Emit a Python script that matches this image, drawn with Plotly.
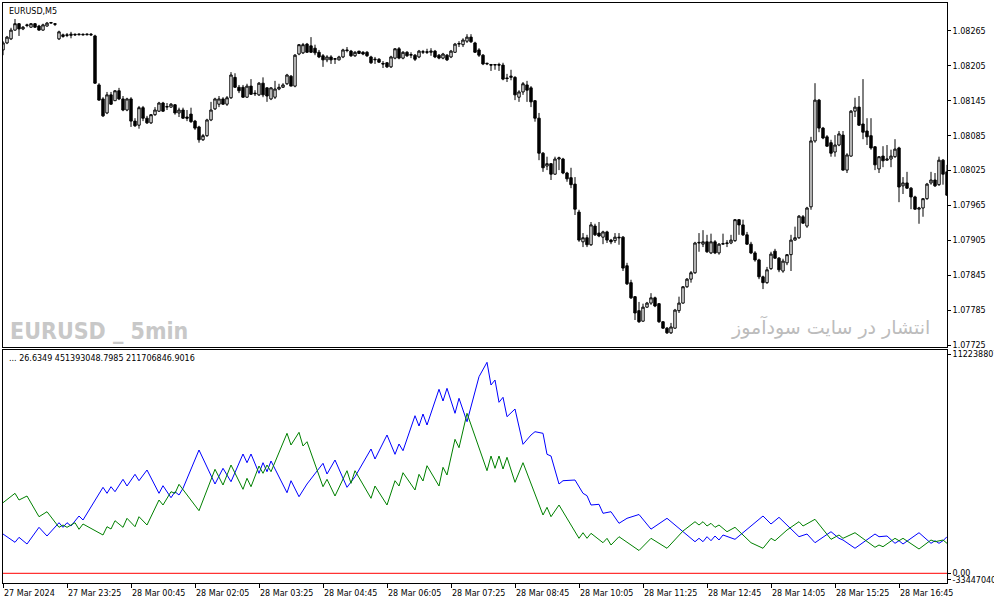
import pandas as pd
import plotly.graph_objects as go

# EURUSD M5 quotes, in points (1 point = 0.00001)
open_pts = [
    108232, 108244, 108251, 108266, 108277, 108268, 108275, 108271, 108277, 108273,
    108266, 108273, 108278, 108277, 108251, 108255, 108258, 108257, 108259, 108258,
    108259, 108258, 108259, 108256, 108172, 108148, 108124, 108155, 108145, 108162,
    108148, 108129, 108148, 108110, 108103, 108133, 108115, 108107, 108121, 108127,
    108141, 108134, 108134, 108138, 108124, 108129, 108117, 108122, 108110, 108100,
    108078, 108085, 108112, 108131, 108139, 108148, 108139, 108150, 108185, 108168,
    108168, 108151, 108170, 108158, 108155, 108175, 108167, 108148, 108151, 108165,
    108168, 108174, 108187, 108170, 108225, 108227, 108242, 108239, 108235, 108228,
    108222, 108215, 108220, 108216, 108215, 108220, 108232, 108230, 108222, 108230,
    108228, 108228, 108220, 108215, 108216, 108209, 108210, 108203, 108218, 108234,
    108218, 108228, 108223, 108223, 108220, 108228, 108229, 108228, 108230, 108223,
    108218, 108223, 108220, 108228, 108242, 108241, 108247, 108254, 108244, 108232,
    108223, 108208, 108207, 108206, 108207, 108206, 108184, 108185, 108185, 108151,
    108160, 108172, 108167, 108145, 108115, 108055, 108033, 108037, 108019, 108045,
    108045, 108021, 108013, 108002, 107954, 107903, 107910, 107898, 107930, 107918,
    107911, 107920, 107906, 107905, 107911, 107911, 107862, 107833, 107809, 107785,
    107767, 107791, 107798, 107807, 107797, 107766, 107755, 107747, 107755, 107785,
    107798, 107826, 107839, 107850, 107901, 107899, 107903, 107884, 107903, 107884,
    107899, 107900, 107901, 107905, 107941, 107932, 107915, 107899, 107884, 107872,
    107843, 107833, 107857, 107887, 107875, 107853, 107867, 107881, 107906, 107910,
    107946, 107930, 107963, 108076, 108146, 108098, 108083, 108073, 108057, 108069,
    108086, 108026, 108050, 108127, 108134, 108105, 108093, 108085, 108066, 108028,
    108050, 108043, 108045, 108049, 108064, 107999, 108004, 107995, 107980, 107959,
    107961, 107977, 108004, 108009, 108001, 108043, 108023,
]
high_pts = [
    108247, 108256, 108270, 108285, 108278, 108273, 108277, 108278, 108278, 108275,
    108277, 108280, 108280, 108278, 108265, 108260, 108261, 108263, 108260, 108260,
    108260, 108260, 108261, 108258, 108175, 108151, 108160, 108160, 108163, 108167,
    108153, 108150, 108151, 108115, 108136, 108136, 108119, 108122, 108134, 108143,
    108143, 108141, 108141, 108139, 108133, 108133, 108129, 108133, 108112, 108102,
    108088, 108114, 108143, 108150, 108153, 108151, 108153, 108194, 108192, 108172,
    108172, 108174, 108182, 108163, 108177, 108185, 108168, 108168, 108179, 108174,
    108175, 108191, 108189, 108225, 108242, 108244, 108244, 108254, 108241, 108232,
    108225, 108223, 108223, 108218, 108222, 108234, 108237, 108232, 108230, 108230,
    108230, 108230, 108222, 108220, 108218, 108213, 108211, 108222, 108235, 108237,
    108230, 108230, 108228, 108225, 108232, 108232, 108234, 108235, 108232, 108225,
    108227, 108225, 108232, 108244, 108247, 108252, 108259, 108259, 108246, 108235,
    108225, 108210, 108208, 108208, 108210, 108210, 108191, 108198, 108187, 108163,
    108177, 108179, 108170, 108146, 108124, 108057, 108049, 108038, 108049, 108049,
    108047, 108023, 108030, 108014, 107958, 107918, 107915, 107937, 107934, 107937,
    107922, 107922, 107908, 107918, 107918, 107913, 107867, 107838, 107810, 107800,
    107797, 107800, 107815, 107809, 107798, 107767, 107757, 107764, 107788, 107809,
    107827, 107841, 107853, 107903, 107918, 107923, 107915, 107917, 107906, 107901,
    107917, 107906, 107915, 107942, 107942, 107941, 107920, 107903, 107887, 107874,
    107845, 107860, 107886, 107891, 107877, 107874, 107882, 107915, 107929, 107949,
    107949, 107963, 108083, 108175, 108148, 108100, 108086, 108078, 108086, 108093,
    108093, 108055, 108129, 108150, 108153, 108182, 108115, 108115, 108067, 108050,
    108067, 108069, 108061, 108079, 108066, 108014, 108023, 107997, 107982, 107963,
    107978, 108004, 108023, 108021, 108049, 108045, 108035,
]
low_pts = [
    108223, 108242, 108249, 108265, 108256, 108266, 108271, 108270, 108270, 108265,
    108265, 108272, 108277, 108273, 108249, 108253, 108254, 108252, 108256, 108257,
    108257, 108257, 108256, 108174, 108145, 108117, 108122, 108138, 108145, 108146,
    108127, 108127, 108100, 108100, 108097, 108110, 108105, 108105, 108119, 108126,
    108126, 108129, 108133, 108121, 108117, 108114, 108110, 108107, 108095, 108073,
    108076, 108083, 108110, 108129, 108134, 108138, 108136, 108148, 108167, 108158,
    108150, 108150, 108155, 108153, 108153, 108151, 108143, 108146, 108148, 108163,
    108167, 108172, 108170, 108168, 108223, 108225, 108227, 108227, 108223, 108218,
    108203, 108211, 108208, 108208, 108214, 108218, 108228, 108220, 108220, 108225,
    108223, 108220, 108208, 108208, 108210, 108201, 108201, 108201, 108216, 108216,
    108216, 108220, 108218, 108213, 108218, 108225, 108225, 108222, 108218, 108216,
    108216, 108213, 108218, 108227, 108237, 108237, 108244, 108244, 108227, 108220,
    108206, 108206, 108196, 108198, 108196, 108180, 108177, 108180, 108146, 108143,
    108155, 108143, 108134, 108109, 108043, 108023, 108026, 108009, 108018, 108026,
    108019, 108006, 107995, 107949, 107903, 107894, 107894, 107896, 107913, 107911,
    107899, 107901, 107899, 107901, 107898, 107853, 107829, 107805, 107769, 107764,
    107766, 107790, 107795, 107791, 107764, 107754, 107745, 107745, 107754, 107781,
    107797, 107824, 107833, 107848, 107886, 107894, 107884, 107882, 107882, 107881,
    107898, 107894, 107899, 107903, 107915, 107913, 107898, 107882, 107869, 107839,
    107822, 107831, 107855, 107874, 107851, 107850, 107863, 107853, 107905, 107908,
    107934, 107927, 107958, 108073, 108091, 108079, 108066, 108049, 108049, 108067,
    108025, 108021, 108049, 108117, 108102, 108079, 108069, 108061, 108026, 108021,
    108031, 108042, 108031, 108047, 107971, 107985, 107994, 107959, 107958, 107934,
    107946, 107975, 108001, 107997, 107999, 108001, 107982,
]
close_pts = [
    108244, 108254, 108266, 108277, 108268, 108271, 108274, 108277, 108271, 108266,
    108275, 108278, 108279, 108276, 108263, 108258, 108257, 108259, 108258, 108259,
    108258, 108259, 108258, 108175, 108146, 108119, 108155, 108139, 108162, 108148,
    108129, 108148, 108110, 108102, 108133, 108115, 108107, 108121, 108129, 108141,
    108127, 108135, 108139, 108124, 108129, 108115, 108115, 108109, 108098, 108078,
    108085, 108112, 108129, 108148, 108148, 108139, 108150, 108189, 108168, 108162,
    108151, 108170, 108156, 108157, 108175, 108155, 108153, 108167, 108165, 108168,
    108172, 108189, 108170, 108223, 108241, 108241, 108228, 108228, 108227, 108220,
    108215, 108220, 108215, 108217, 108220, 108232, 108231, 108222, 108228, 108226,
    108225, 108222, 108210, 108216, 108211, 108208, 108203, 108220, 108234, 108218,
    108228, 108222, 108224, 108216, 108230, 108229, 108228, 108230, 108220, 108218,
    108225, 108215, 108230, 108242, 108243, 108249, 108254, 108246, 108228, 108223,
    108208, 108209, 108206, 108207, 108206, 108182, 108183, 108187, 108155, 108160,
    108174, 108163, 108143, 108115, 108055, 108030, 108037, 108019, 108045, 108047,
    108021, 108011, 108001, 107959, 107906, 107910, 107898, 107932, 107915, 107913,
    107920, 107906, 107903, 107911, 107910, 107858, 107831, 107807, 107781, 107766,
    107791, 107798, 107807, 107793, 107766, 107755, 107747, 107757, 107786, 107798,
    107826, 107839, 107850, 107901, 107902, 107903, 107886, 107903, 107884, 107899,
    107900, 107901, 107906, 107941, 107932, 107915, 107899, 107884, 107872, 107843,
    107833, 107855, 107882, 107875, 107855, 107870, 107881, 107906, 107910, 107947,
    107935, 107961, 108076, 108146, 108098, 108081, 108067, 108055, 108069, 108088,
    108026, 108052, 108127, 108134, 108103, 108091, 108083, 108064, 108035, 108049,
    108042, 108045, 108050, 108062, 107997, 108004, 107995, 107980, 107959, 107961,
    107977, 108002, 108009, 107999, 108043, 108019, 107983,
]

# indicator lines, turning points: bar number and value in millions
blue_bar = [0, 3, 4, 6, 9, 11, 14, 15, 16, 17, 19, 20, 25, 26, 27, 28, 30, 31, 33, 34,
            36, 39, 40, 42, 43, 44, 45, 49, 53, 55, 57, 60, 61, 62, 64, 65, 66, 67, 71, 72,
            74, 76, 80, 81, 83, 86, 88, 92, 93, 96, 98, 99, 100, 103, 104, 105, 106, 109, 110, 111,
            113, 114, 116, 119, 121, 122, 123, 124, 125, 126, 128, 130, 132, 133, 135, 136, 137, 139, 140, 143,
            145, 146, 147, 149, 150, 152, 154, 156, 159, 162, 166, 170, 173, 174, 175, 176, 177, 178, 179, 180,
            183, 190, 192, 194, 199, 201, 203, 207, 208, 209, 210, 213, 218, 219, 221, 223, 224, 225, 229, 232,
            233, 234, 235, 236]
blue_val = [201.1, 158.7, 184.2, 150.0, 235.4, 190.9, 259.0, 235.4, 259.0, 242.1, 293.3, 272.8, 440.1, 409.4, 443.2, 417.6, 481.1, 446.8, 506.7, 473.9,
            528.7, 409.4, 448.3, 386.9, 417.6, 400.7, 435.0, 631.0, 457.0, 537.4, 468.8, 610.6, 566.1, 610.6, 511.8, 566.1, 520.0, 574.8, 412.5, 473.9,
            392.0, 457.0, 563.0, 508.2, 579.9, 440.1, 494.4, 636.2, 585.0, 707.8, 609.0, 661.8, 627.5, 806.6, 753.9, 815.3, 759.0, 941.7, 881.8, 946.8,
            818.9, 895.7, 775.9, 1006.2, 1079.9, 963.7, 989.3, 875.2, 900.8, 801.5, 840.9, 660.2, 707.8, 724.7, 716.5, 609.0, 600.3, 457.0, 473.9, 477.5,
            409.4, 397.2, 349.6, 353.1, 307.1, 315.3, 255.9, 281.5, 301.0, 226.0, 281.5, 212.9, 161.7, 179.1, 161.7, 187.3, 166.8, 190.9, 170.4, 196.0,
            174.0, 293.3, 252.3, 286.6, 187.3, 201.1, 156.6, 212.9, 196.0, 179.1, 170.4, 128.0, 201.1, 187.3, 190.9, 153.5, 166.8, 150.0, 207.8, 153.5,
            166.8, 153.5, 166.8, 187.3]
green_bar = [0, 3, 4, 6, 9, 11, 14, 15, 16, 18, 19, 20, 25, 26, 27, 28, 30, 31, 33, 34,
             36, 39, 40, 42, 43, 44, 49, 53, 55, 57, 60, 61, 62, 64, 65, 66, 67, 71, 72, 74,
             75, 76, 80, 81, 83, 86, 87, 88, 92, 93, 96, 98, 99, 100, 103, 104, 105, 106, 109, 110,
             111, 113, 114, 116, 121, 122, 123, 124, 125, 126, 128, 130, 135, 136, 137, 139, 144, 145, 146, 147,
             150, 151, 152, 154, 159, 162, 166, 170, 173, 174, 175, 176, 177, 178, 179, 181, 183, 187, 190, 192,
             193, 196, 199, 200, 203, 207, 209, 210, 213, 218, 219, 220, 223, 224, 225, 229, 232, 233, 235, 236]
green_val = [361.3, 409.4, 375.1, 395.6, 289.7, 315.3, 235.4, 247.2, 235.4, 259.0, 225.2, 252.3, 196.0, 238.5, 226.7, 269.2, 235.4, 281.5, 238.5, 289.7,
             247.2, 375.1, 349.6, 417.6, 409.4, 455.5, 320.4, 532.3, 451.9, 554.3, 429.9, 486.2, 443.2, 549.2, 511.8, 554.3, 520.0, 716.5, 656.6, 721.6,
             651.5, 673.5, 443.2, 481.1, 395.6, 525.1, 460.6, 525.1, 383.9, 446.8, 349.6, 473.9, 446.8, 514.9, 426.3, 506.7, 472.4, 550.7, 446.8, 542.5,
             503.1, 685.8, 642.8, 818.9, 525.1, 600.3, 537.4, 600.3, 533.8, 593.7, 465.7, 566.1, 298.4, 337.8, 289.7, 349.6, 179.1, 207.8, 179.1, 204.7,
             156.6, 179.1, 144.8, 187.3, 116.6, 179.1, 128.0, 216.5, 264.1, 247.2, 264.1, 242.1, 255.9, 235.4, 247.2, 212.9, 235.4, 156.6, 128.0, 179.1,
             166.8, 221.6, 264.1, 242.1, 276.4, 174.0, 196.0, 179.1, 207.8, 133.1, 144.8, 136.1, 179.1, 166.8, 179.1, 124.4, 170.4, 161.7, 170.4, 153.5]

price_ticks = [1.07725, 1.07785, 1.07845, 1.07905, 1.07965,
               1.08025, 1.08085, 1.08145, 1.08205, 1.08265]
ind_ticks = [1122.388071, 0.0, -33.44704]
ind_labels = ["1122388071", "0.00", "-33447040"]
tick_bars = [0, 16, 32, 48, 64, 80, 96, 112, 128, 144, 160, 176, 192, 208, 224]
tick_labels = ["27 Mar 2024", "27 Mar 23:25", "28 Mar 00:45", "28 Mar 02:05",
               "28 Mar 03:25", "28 Mar 04:45", "28 Mar 06:05", "28 Mar 07:25",
               "28 Mar 08:45", "28 Mar 10:05", "28 Mar 11:25", "28 Mar 12:45",
               "28 Mar 14:05", "28 Mar 15:25", "28 Mar 16:45"]

times = pd.date_range("2024-03-27 22:05", periods=len(close_pts), freq="5min")

fig = go.Figure()

fig.add_trace(go.Candlestick(
    x=times,
    open=[p / 1e5 for p in open_pts],
    high=[p / 1e5 for p in high_pts],
    low=[p / 1e5 for p in low_pts],
    close=[p / 1e5 for p in close_pts],
    increasing=dict(line=dict(color="black", width=1), fillcolor="white"),
    decreasing=dict(line=dict(color="black", width=1), fillcolor="black"),
    xaxis="x", yaxis="y",
))

fig.add_trace(go.Scatter(x=times[blue_bar], y=blue_val, mode="lines",
                         line=dict(color="#0000ff", width=1),
                         xaxis="x2", yaxis="y2"))
fig.add_trace(go.Scatter(x=times[green_bar], y=green_val, mode="lines",
                         line=dict(color="#008000", width=1),
                         xaxis="x2", yaxis="y2"))

# zero level of the indicator window
fig.add_shape(type="line", xref="x2 domain", x0=0, x1=1, yref="y2", y0=0, y1=0,
              line=dict(color="#ff0000", width=1))

axis_common = dict(showline=True, mirror=True, linecolor="black", linewidth=1,
                   showgrid=False, zeroline=False, automargin=False)

fig.update_layout(
    width=994, height=605,
    margin=dict(l=3, r=47, t=3, b=22),
    paper_bgcolor="white", plot_bgcolor="white",
    showlegend=False,
    boxgap=0.15,
    font=dict(family="DejaVu Sans", size=8, color="black"),
    xaxis=dict(domain=[0, 1], anchor="y", range=[times[0], times[-1]],
               showticklabels=False, ticks="", rangeslider=dict(visible=False),
               **axis_common),
    yaxis=dict(domain=[0.4069, 1], anchor="x", side="right",
               range=[1.077227, 1.083125], tickvals=price_ticks, tickformat=".5f",
               ticks="outside", ticklen=3, tickcolor="black", **axis_common),
    xaxis2=dict(domain=[0, 1], anchor="y2", matches="x", range=[times[0], times[-1]],
                tickvals=times[tick_bars], ticktext=tick_labels,
                ticks="outside", ticklen=4, tickcolor="black",
                ticklabelposition="outside right", ticklabelstandoff=2, **axis_common),
    yaxis2=dict(domain=[0, 0.4017], anchor="x2", side="right",
                range=[-49.6, 1142.8], tickvals=ind_ticks, ticktext=ind_labels,
                ticks="outside", ticklen=3, tickcolor="black", **axis_common),
)

fig.add_annotation(text="EURUSD,M5", xref="x domain", yref="y domain", x=0, y=1,
                   xanchor="left", yanchor="top", xshift=4, yshift=-2,
                   showarrow=False, font=dict(family="DejaVu Sans", size=8, color="black"))
fig.add_annotation(text="EURUSD _ 5min", xref="x domain", yref="y domain", x=0, y=0,
                   xanchor="left", yanchor="bottom", xshift=5, yshift=1,
                   showarrow=False,
                   font=dict(family="DejaVu Sans Condensed, DejaVu Sans", size=23,
                             color="#c8c8c8", weight="bold"))
fig.add_annotation(text="انتشار در سایت سودآموز", xref="x domain", yref="y domain", x=1, y=0,
                   xanchor="right", yanchor="bottom", xshift=-15, yshift=6,
                   showarrow=False, font=dict(family="DejaVu Sans", size=19, color="#bcbcbc"))
fig.add_annotation(text="... 26.6349 451393048.7985 211706846.9016", xref="x2 domain", yref="y2 domain",
                   x=0, y=1, xanchor="left", yanchor="top", xshift=4, yshift=-2,
                   showarrow=False, font=dict(family="DejaVu Sans", size=8, color="black"))

# the page's default body margin would shift the chart by 8px
fig.write_html("out.html", config={"displayModeBar": False},
               post_script="document.body.style.margin = '0';")
